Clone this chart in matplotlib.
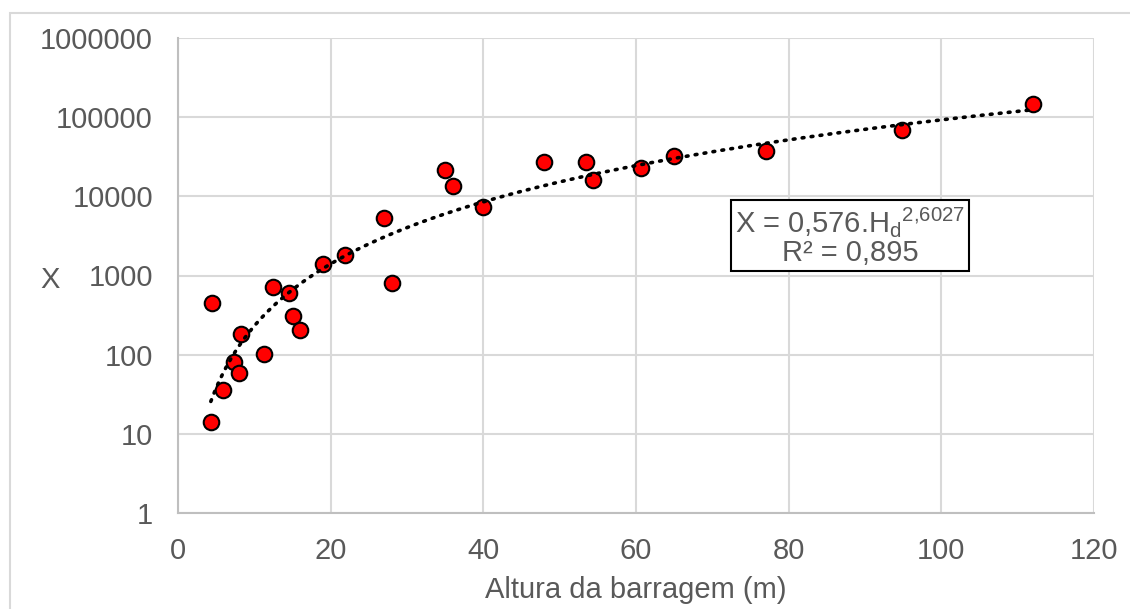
import matplotlib.pyplot as plt
import numpy as np
from matplotlib.patches import Rectangle

plt.rcParams['font.family'] = ['Liberation Sans', 'DejaVu Sans']

# dam height (m) and X
altura = [4.4, 4.3, 5.9, 7.3, 8.0, 8.2, 11.3, 12.5, 14.5, 15.0, 16.0,
          19.0, 21.9, 27.0, 28.0, 35.0, 36.0, 40.0, 48.0, 53.5, 54.4,
          60.7, 65.0, 77.0, 94.9, 112.0]
x_vals = [446, 14.1, 36, 80, 59, 181, 101, 710, 596, 308, 205,
          1400, 1815, 5370, 797, 21500, 13400, 7330, 26900, 27400, 16100,
          22600, 32300, 37400, 68200, 146600]

# power trendline as given in the chart
coef_a = 0.576
coef_b = 2.6027

grey = '#595959'
gridc = '#d9d9d9'
fs = 21

fig = plt.figure(figsize=(11.3, 6.09), dpi=100)
ax = fig.add_axes([178/1130, 1-513/609, (1094-178)/1130, (513-38)/609])

# outer chart frame
fig.patches.append(Rectangle((10/1130, -0.1), 1.2, 1-13/609+0.1, transform=fig.transFigure,
                             fill=False, edgecolor=gridc, lw=1.5, zorder=0))

hh = np.linspace(min(altura), max(altura), 200)
ax.plot(hh, coef_a * hh**coef_b, color='black', lw=2.6, linestyle=(0, (0.5, 2.0)),
        dash_capstyle='round', zorder=4)
ax.scatter(altura, x_vals, s=125, color='#ff0000', edgecolor='black', linewidth=1.5, zorder=3)

ax.set_yscale('log')
ax.set_xlim(0, 120)
ax.set_ylim(1, 1e6)
ax.set_xticks(range(0, 121, 20))
ax.set_yticks([10**k for k in range(7)])
ax.set_yticklabels([str(10**k) for k in range(7)])
ax.minorticks_off()
ax.grid(True, color=gridc, lw=1.5)
ax.set_axisbelow(True)
for s in ['top', 'right']:
    ax.spines[s].set_visible(False)
for s in ['left', 'bottom']:
    ax.spines[s].set_color('#bfbfbf')
    ax.spines[s].set_linewidth(1.5)
ax.tick_params(length=0, labelsize=fs, colors=grey)
ax.tick_params(axis='y', pad=18)
ax.tick_params(axis='x', pad=17)

ax.set_xlabel('Altura da barragem (m)', fontsize=fs, color=grey, labelpad=8)
fig.text(50/1130, 1-280/609, 'X', fontsize=fs, color=grey, ha='center', va='center')

ax.text(850/1130, 1-236/609,
        'X = 0,576.H$_\\mathregular{d}$$^\\mathregular{2{,}6027}$\nR² = 0,895',
        transform=fig.transFigure, ha='center', va='center', fontsize=fs, color=grey,
        linespacing=1.0,
        bbox=dict(boxstyle='square,pad=0.15', facecolor='white', edgecolor='black', lw=1.5), zorder=5)

fig.savefig('out.png', dpi=100)
